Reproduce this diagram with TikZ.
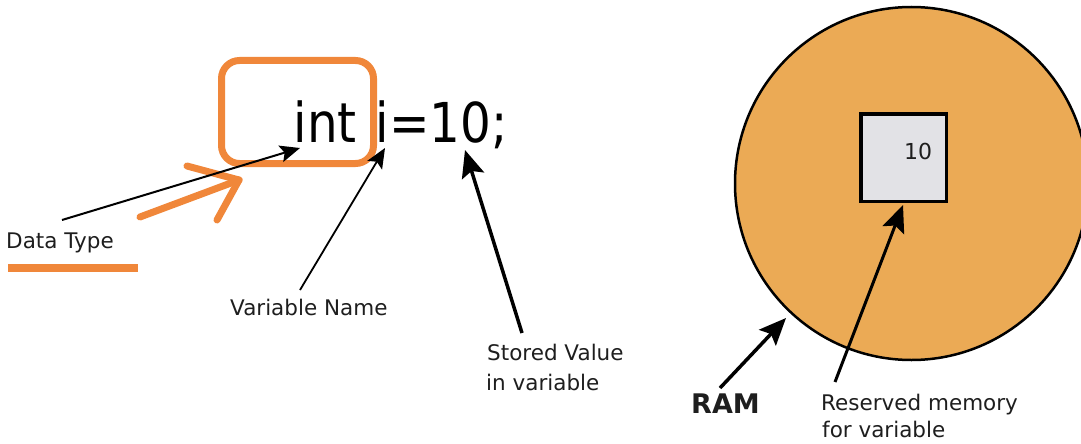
\documentclass[tikz,border=0pt]{standalone}
\usepackage{fontspec}
\setmainfont{DejaVu Sans}
\newfontfamily\codefont[FakeStretch=0.88]{DejaVu Sans}
\usetikzlibrary{arrows.meta}
\definecolor{hl}{HTML}{F0873A}
\definecolor{ram}{HTML}{EBAA55}
\definecolor{cell}{HTML}{E2E2E6}
\definecolor{txt}{HTML}{1E1E1E}
\tikzset{
  code/.style={inner sep=0pt, anchor=base west, font=\codefont\fontsize{55}{60}\selectfont, text=black},
  lbl/.style={inner sep=0pt, anchor=base west, font=\fontsize{21.5}{26}\selectfont, text=txt},
  thinarrow/.style={draw=black, line width=2pt, -{Stealth[length=20pt,width=17pt,inset=4pt]}},
  thickarrow/.style={draw=black, line width=3.5pt, -{Stealth[length=27pt,width=23pt,inset=5pt]}},
  hlstroke/.style={draw=hl, line width=7pt, line cap=round},
}
\begin{document}
\begin{tikzpicture}[x=1pt,y=-1pt]
\useasboundingbox (0,0) rectangle (1081,444);
% RAM circle and memory cell
\draw[fill=ram, line width=2.5pt] (911.5,183.5) circle[radius=176.5];
\node[draw, line width=3.5pt, fill=cell, minimum width=85.5pt, minimum height=87.5pt, inner sep=0pt] (cell) at (903.5,157.5) {};
\node[inner sep=0pt, anchor=base west, font=\fontsize{22}{26}\selectfont, text=txt] (ten) at (904,159) {10};
% code text
\node[code] (int) at (293.5,142) {int};
\node[code] (var) at (375.5,142) {i};
\node[code] (val) at (389,142) {=10;};
% orange highlights
\draw[hl, line width=7pt, rounded corners=18pt] (221.5,60.5) rectangle (373.5,163.5);
\coordinate (hlTip) at (239,180);
\draw[hlstroke] (140,217) -- (hlTip);
\draw[hlstroke] (187,166) -- (hlTip);
\draw[hlstroke] (217,220) -- (hlTip);
\draw[draw=hl, line width=8pt] (8,268) -- (138,268);
% labels
\node[lbl] (dt) at (6,248) {Data Type};
\node[lbl] (vn) at (230,315) {Variable Name};
\node[lbl] (sv1) at (487,360) {Stored Value};
\node[lbl] (sv2) at (486,390) {in variable};
\node[inner sep=0pt, anchor=base west, font=\bfseries\fontsize{27}{32}\selectfont, text=txt] (ramlbl) at (691,413) {RAM};
\node[lbl] (rm1) at (821,410) {Reserved memory};
\node[lbl] (rm2) at (822,437) {for variable};
% connector end points
\coordinate (dtTail) at (62,220);
\coordinate (dtTip) at (300,148);
\coordinate (vnTail) at (300,290);
\coordinate (vnTip) at (385,148);
\coordinate (svTail) at (522,333);
\coordinate (svTip) at (465,150);
\coordinate (ramTail) at (720,388);
\coordinate (ramTip) at (786,318);
\coordinate (rmTail) at (835,382);
\coordinate (rmTip) at (903,205);
% arrows
\draw[thinarrow] (dtTail) -- (dtTip);
\draw[thinarrow, line width=1.8pt] (vnTail) -- (vnTip);
\draw[thickarrow] (svTail) -- (svTip);
\draw[thickarrow] (ramTail) -- (ramTip);
\draw[thickarrow, line width=3pt] (rmTail) -- (rmTip);
\end{tikzpicture}
\end{document}
